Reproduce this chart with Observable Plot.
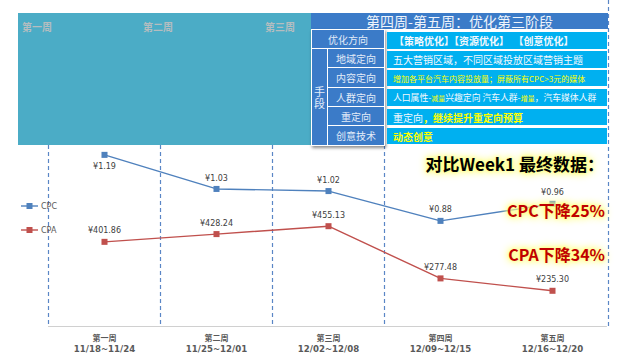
<!DOCTYPE html>
<html>
<head>
<meta charset="utf-8">
<script src="https://cdn.jsdelivr.net/npm/d3@7"></script>
<script src="https://cdn.jsdelivr.net/npm/@observablehq/plot@0.6"></script>
<style>
  body { margin: 0; background: #fff; }
  #wrap { position: relative; width: 630px; height: 356px; overflow: hidden; font-family: "Noto Sans CJK SC", "DejaVu Sans", sans-serif; }
  #wrap > svg, #wrap > figure { position: absolute; left: 0; top: 0; margin: 0; z-index: 1; }
  .abs { position: absolute; box-sizing: border-box; z-index: 5; }
  .teal { background: #4bacc6; }
  .wk { color: #b5bdc0; font-weight: bold; font-size: 10px; line-height: 12px; }
  .hdr { background: #3b7bc8; color: #eef4fb; font-size: 14px; line-height: 16px; text-align: center; }
  .lc { background: #3b7bc8; color: #e3ecf8; font-size: 10px; display: flex; align-items: center; justify-content: center; }
  .rc { background: #00b0f0; color: #f4f9fd; font-size: 10px; display: flex; align-items: center; padding-left: 6px; white-space: nowrap; overflow: hidden; }
  .y { color: #ffff00; }
  .ann { font-weight: bold; font-size: 16px; line-height: 20px; white-space: nowrap; text-align: right; z-index: 6;
         text-shadow: 0 0 3px #ffff70, 0 0 6px #ffff70, 0 0 9px #ffff90, 0 0 12px #ffffb0; }
  .leg { font-family: "DejaVu Sans", sans-serif; font-size: 8px; color: #595959; display: flex; align-items: center; }
</style>
</head>
<body>
<div id="wrap"></div>
<script>
// ---- data ----
const weeks = ["第一周", "第二周", "第三周", "第四周", "第五周"];
const dateRanges = ["11/18~11/24", "11/25~12/01", "12/02~12/08", "12/09~12/15", "12/16~12/20"];
const cpcValues = [1.19, 1.03, 1.02, 0.88, 0.96];
const cpaValues = [401.86, 428.24, 455.13, 277.48, 235.30];
const phaseBounds = [0.5, 1.5, 2.5, 3.5, 5.5];
const seriesNames = ["CPC", "CPA"];
const colors = {CPC: "#4f81bd", CPA: "#c0504d"};

// ---- scales (two independent value axes, both hidden) ----
const xDomain = [0.5, 5.5];
const xRange = [48, 608];
const cpaDomain = [113.8, 729.7];
const cpcDomain = [0.384, 1.234];
const yRange = [326, 145];

const rows = weeks.map((w, i) => ({i: i + 1, week: w, dates: dateRanges[i], cpc: cpcValues[i], cpa: cpaValues[i]}));

const common = {
  width: 630, height: 356,
  marginTop: 0, marginBottom: 30, marginLeft: 0, marginRight: 0,
  x: {domain: xDomain, range: xRange, axis: null},
  style: {background: "transparent", overflow: "visible"}
};

const wrap = document.getElementById("wrap");

const base = Plot.plot({
  ...common,
  y: {domain: cpaDomain, range: yRange, axis: null},
  marks: [
    Plot.ruleX(phaseBounds.slice(0, 4), {y1: cpaDomain[1], y2: cpaDomain[0], stroke: "#5a86c6", strokeWidth: 1.2, strokeDasharray: "4,3"}),
    Plot.ruleX(phaseBounds.slice(4), {stroke: "#5a86c6", strokeWidth: 1.2, strokeDasharray: "4,3"}),
    Plot.ruleY([cpaDomain[0]], {x1: xDomain[0], x2: xDomain[1] - 0.01, stroke: "#d0d0d0", strokeWidth: 1.2}),
    Plot.line(rows, {x: "i", y: "cpa", stroke: colors.CPA, strokeWidth: 1.4}),
    Plot.dot(rows, {x: "i", y: "cpa", symbol: "square", fill: colors.CPA, stroke: "none", r: 3.4}),
    Plot.text(rows, {x: "i", y: "cpa", text: d => "¥" + d.cpa.toFixed(2), dy: -11, fontSize: 8, fill: "#404040", fontFamily: "DejaVu Sans"}),
    Plot.text(rows, {x: "i", y: () => cpaDomain[0], text: "week", dy: 12, fontSize: 8, fontWeight: "bold", fill: "#595959", fontFamily: "Noto Sans CJK SC"}),
    Plot.text(rows, {x: "i", y: () => cpaDomain[0], text: "dates", dy: 23, fontSize: 8.6, fontWeight: "bold", fill: "#595959", fontFamily: "DejaVu Sans"})
  ]
});
wrap.appendChild(base);

const overlay = Plot.plot({
  ...common,
  y: {domain: cpcDomain, range: yRange, axis: null},
  marks: [
    Plot.line(rows, {x: "i", y: "cpc", stroke: colors.CPC, strokeWidth: 1.4}),
    Plot.dot(rows, {x: "i", y: "cpc", symbol: "square", fill: colors.CPC, stroke: "none", r: 3.4}),
    Plot.text(rows, {filter: d => d.i === 1, x: "i", y: "cpc", text: d => "¥" + d.cpc.toFixed(2), dy: 12, fontSize: 8, fill: "#404040", fontFamily: "DejaVu Sans"}),
    Plot.text(rows, {filter: d => d.i !== 1, x: "i", y: "cpc", text: d => "¥" + d.cpc.toFixed(2), dy: -11, fontSize: 8, fill: "#404040", fontFamily: "DejaVu Sans"})
  ]
});
wrap.appendChild(overlay);

// ---- annotation panels (HTML) ----
function el(cls, css, html) {
  const d = document.createElement("div");
  d.className = "abs " + cls;
  Object.assign(d.style, css);
  if (html != null) d.innerHTML = html;
  wrap.appendChild(d);
  return d;
}
const px = v => v + "px";

// teal block for weeks 1-3
el("teal", {left: px(18), top: px(13), width: px(294), height: px(132)});
[22, 143, 265].forEach((lx, k) => el("wk", {left: px(lx), top: px(21)}, weeks[k]));

// phase table
el("hdr", {left: px(311), top: px(13), width: px(297), height: px(16)}, "第四周-第五周：优化第三阶段");
el("", {left: px(311), top: px(29), width: px(74), height: px(117), background: "#fff", boxShadow: "1px 2px 3px rgba(0,0,0,0.45)"});
el("lc", {left: px(312), top: px(30), width: px(72), height: px(18)}, "优化方向");
el("lc", {left: px(312), top: px(49), width: px(15), height: px(96)}, '<div style="width:11px;font-size:11px;line-height:12px;text-align:center">手 段</div>');
const leftRows = [["地域定向", 49, 18], ["内容定向", 68, 19], ["人群定向", 88, 18], ["重定向", 107, 18], ["创意技术", 126, 19]];
leftRows.forEach(([t, top, h]) => el("lc", {left: px(328), top: px(top), width: px(56), height: px(h)}, t));

const rc = (top, h, html, css) => el("rc", Object.assign({left: px(387), top: px(top), width: px(220), height: px(h)}, css || {}), html);
rc(32, 17, "【策略优化】【资源优化】&nbsp;&nbsp;【创意优化】", {fontWeight: "bold", paddingLeft: "7px"});
rc(51, 17, "五大营销区域，不同区域投放区域营销主题");
rc(70, 16, "增加各平台汽车内容投放量；屏蔽所有CPC>3元的媒体", {color: "#ffff00", fontSize: "8px"});
rc(89, 17, '人口属性-<span class="y" style="font-size:7px">减量</span> 兴趣定向 汽车人群-<span class="y" style="font-size:7px">增量</span>，汽车媒体人群', {fontSize: "8.8px"});
rc(109, 16, '重定向<span class="y" style="font-weight:bold">，继续提升重定向预算</span>', {fontSize: "10px"});
rc(128, 16, "动态创意", {color: "#ffff00", fontWeight: "bold", fontSize: "10px"});

// callouts
el("ann", {right: px(26), top: px(154), color: "#000", fontSize: "17px"}, "对比Week1 最终数据：");
el("ann", {right: px(25), top: px(200), color: "#c00000"}, "CPC下降25%");
el("ann", {right: px(25), top: px(244), color: "#c00000"}, "CPA下降34%");

// legend
[[seriesNames[0], 206], [seriesNames[1], 230]].forEach(([name, cy]) => {
  const c = colors[name];
  el("leg", {left: px(21), top: px(cy - 6), height: px(12)},
    `<svg width="18" height="12" style="margin-right:2px"><line x1="0" x2="17" y1="6" y2="6" stroke="${c}" stroke-width="1.4"/><rect x="5.5" y="3" width="6" height="6" fill="${c}"/></svg>${name}`);
});
</script>
</body>
</html>
